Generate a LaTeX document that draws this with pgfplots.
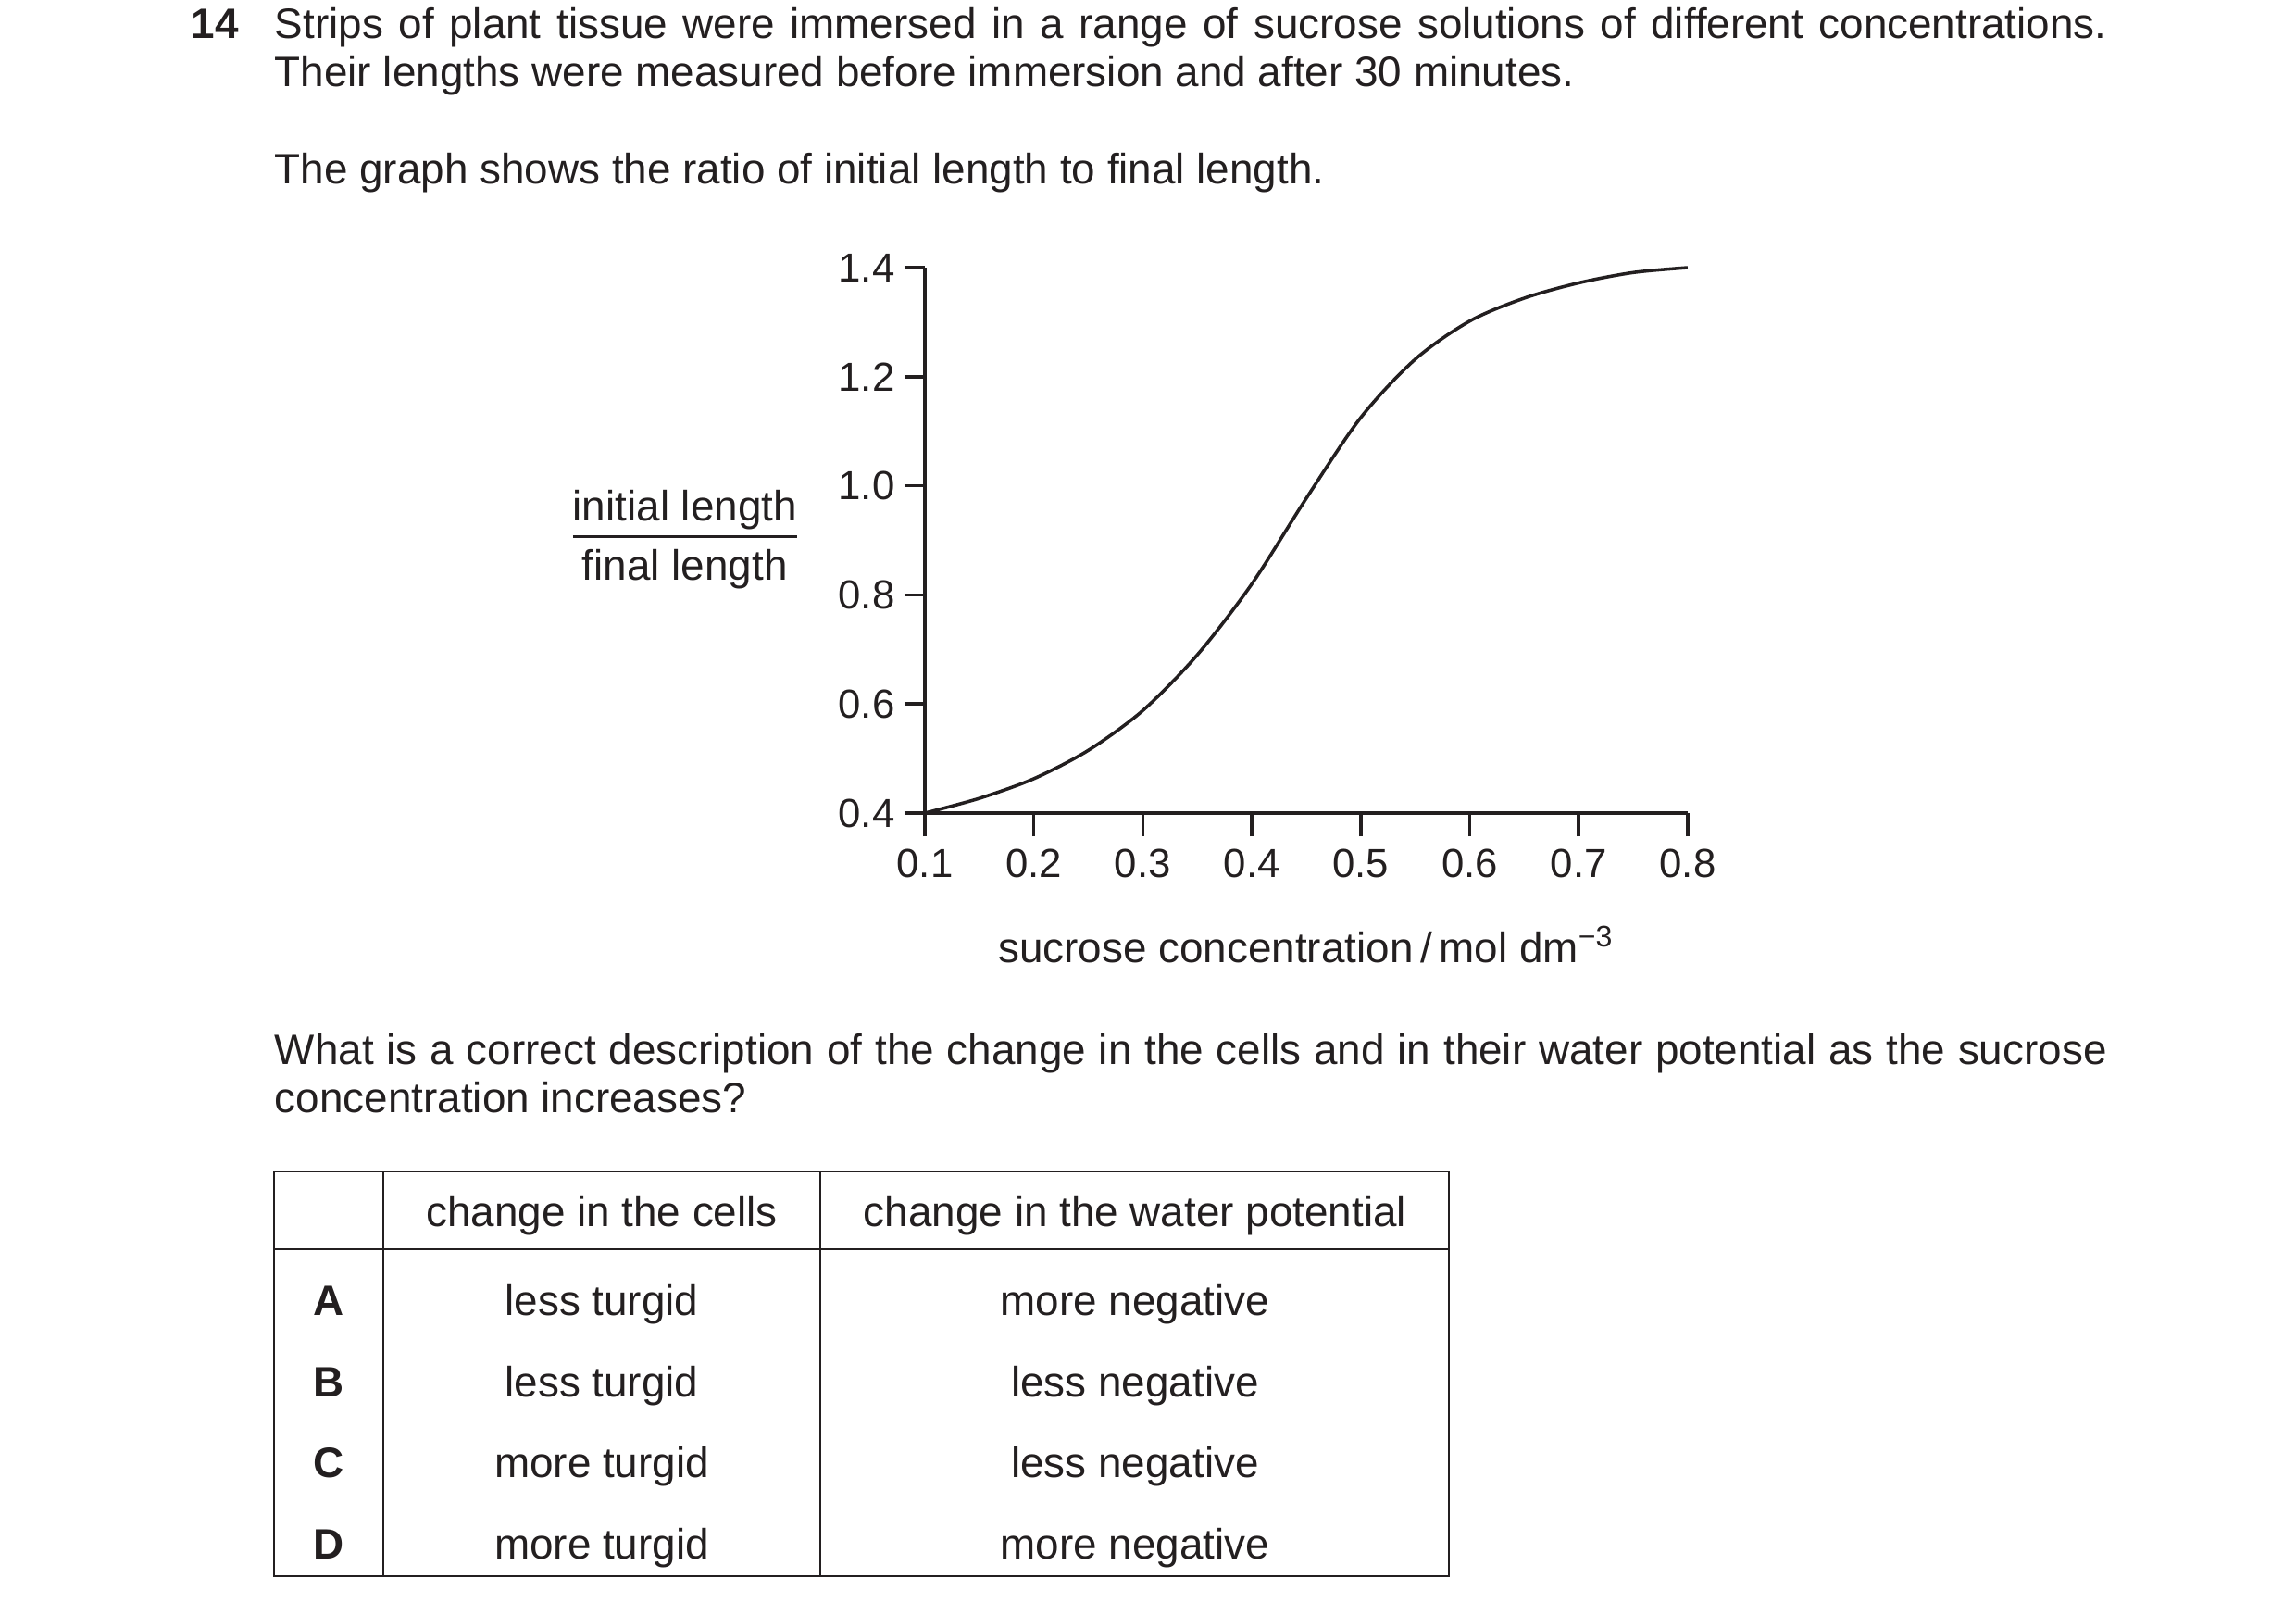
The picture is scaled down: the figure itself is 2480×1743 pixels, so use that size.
\documentclass[border=0pt]{standalone}
\usepackage{fontspec}
\setmainfont{Liberation Sans}
\usepackage{pgfplots}
\pgfplotsset{compat=1.18}
\definecolor{ink}{HTML}{231F20}
\newcommand\txt{\fontsize{11}{13}\selectfont}

\begin{document}
\begin{tikzpicture}
% page text and table, in pixels of the 2480x1743 sheet
\begin{scope}[x=0.24pt,y=-0.24pt,every node/.style={inner sep=0pt,font=\txt,text=ink}]
\useasboundingbox (0,0) rectangle (2480,1743);
\node[anchor=base west] at (206,41) {\bfseries 14};
\node[anchor=base west] at (296,41) {\makebox[474.96pt][s]{Strips of plant tissue were immersed in a range of sucrose solutions of different concentrations.}};
\node[anchor=base west] at (296,93) {Their lengths were measured before immersion and after 30 minutes.};
\node[anchor=base west] at (296,198) {The graph shows the ratio of initial length to final length.};
\node[anchor=base west] at (296,1149) {\makebox[474.96pt][s]{What is a correct description of the change in the cells and in their water potential as the sucrose}};
\node[anchor=base west] at (296,1201) {concentration increases?};

\draw[ink,line width=0.5pt] (296,1265) rectangle (1565,1702);
\draw[ink,line width=0.5pt] (414,1265) -- (414,1702);
\draw[ink,line width=0.5pt] (886,1265) -- (886,1702);
\draw[ink,line width=0.5pt] (296,1349) -- (1565,1349);
\node[anchor=base] at (650,1324) {change in the cells};
\node[anchor=base] at (1226,1324) {change in the water potential};
\node[anchor=base] at (355,1420) {\bfseries A};
\node[anchor=base] at (650,1420) {less turgid};
\node[anchor=base] at (1226,1420) {more negative};
\node[anchor=base] at (355,1508) {\bfseries B};
\node[anchor=base] at (650,1508) {less turgid};
\node[anchor=base] at (1226,1508) {less negative};
\node[anchor=base] at (355,1595) {\bfseries C};
\node[anchor=base] at (650,1595) {more turgid};
\node[anchor=base] at (1226,1595) {less negative};
\node[anchor=base] at (355,1683) {\bfseries D};
\node[anchor=base] at (650,1683) {more turgid};
\node[anchor=base] at (1226,1683) {more negative};
\end{scope}

\begin{axis}[
  at={(239.76pt,-210.72pt)}, anchor=south west,
  scale only axis, width=197.76pt, height=141.36pt,
  xmin=0.1, xmax=0.8, ymin=0.4, ymax=1.4,
  axis x line*=bottom, axis y line*=left,
  clip=false,
  xtick={0.1,0.2,0.3,0.4,0.5,0.6,0.7,0.8},
  ytick={0.4,0.6,0.8,1.0,1.2,1.4},
  tick align=outside,
  xtick style={/pgfplots/major tick length=6pt},
  ytick style={/pgfplots/major tick length=5.3pt},
  axis line style={line width=0.85pt, ink},
  tick style={line width=0.85pt, ink},
  /pgf/number format/assume math mode=true,
  ticklabel style={font=\fontsize{10.5}{12}\selectfont, text=ink},
  xticklabel style={yshift=-1.5pt, /pgf/number format/.cd, fixed, fixed zerofill, precision=1},
  yticklabel style={/pgf/number format/.cd, fixed, fixed zerofill, precision=1},
  xlabel={sucrose concentration\,/\,mol dm\textsuperscript{−3}},
  xlabel style={font=\txt, text=ink, at={(axis description cs:0.5,0)}, anchor=base, yshift=-38.7pt},
  ylabel={\setlength{\arrayrulewidth}{0.6pt}\begin{tabular}{@{}c@{}}initial length\\\hline\rule{0pt}{11pt}final length\end{tabular}},
  ylabel style={rotate=-90, font=\txt, text=ink, at={(axis description cs:0,0.5)}, anchor=center, xshift=-62.2pt},
]
\addplot[smooth, line width=0.85pt, ink] table {
x y
0.10 0.400
0.15 0.427
0.20 0.463
0.25 0.515
0.30 0.588
0.35 0.690
0.40 0.820
0.45 0.977
0.50 1.125
0.55 1.232
0.60 1.302
0.65 1.344
0.70 1.372
0.75 1.391
0.80 1.400
};
\end{axis}
\end{tikzpicture}
\end{document}
